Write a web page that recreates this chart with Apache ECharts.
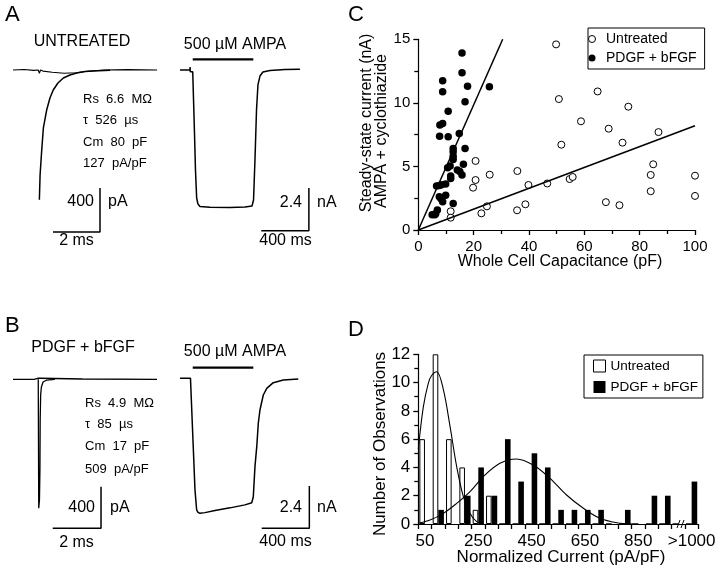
<!DOCTYPE html>
<html><head><meta charset="utf-8">
<script src="https://cdn.jsdelivr.net/npm/echarts@6/dist/echarts.min.js"></script>
<style>html,body{margin:0;padding:0;background:#fff}#c{width:720px;height:572px}</style>
</head><body><div id="c"></div>
<script>
// ---------- DATA ----------
// Panel A/B traces: time (ms), current (nA)
const traceA_base  = [[0.13,0],[0.6,0.005],[1.0,-0.003],[1.2,0],[1.25,-0.03],[1.3,0],[1.4,-0.01],[1.8,-0.02],[2.3,-0.03],[2.8,-0.025],[3.3,-0.012],[4,0],[5,0.003],[6.26,0]];
const traceA_decay = [[1.25,-1.18],[1.28,-0.955],[1.35,-0.727],[1.42,-0.527],[1.56,-0.364],[1.70,-0.255],[1.84,-0.182],[2.04,-0.118],[2.27,-0.073],[2.55,-0.045],[2.84,-0.027],[3.19,-0.014],[3.53,-0.009],[4.26,-0.003]];
const traceA_ampa  = [[42,0],[126,0],[127,0.17],[128,-0.1],[130,0],[149,-0.1],[155,-1.5],[164,-3.6],[172,-5.6],[182,-7.19],[193,-7.53],[210,-7.67],[294,-7.71],[462,-7.72],[588,-7.7],[647,-7.64],[660,-7.3],[672,-5.06],[685,-2.25],[697,-0.84],[714,-0.34],[739,-0.11],[798,-0.03],[924,0.03],[1050,0.04]];
const traceB_base  = [[0.124,0],[1.0,0],[1.15,0.01],[1.21,0.025],[1.25,0.01],[1.3,0],[3,0.003],[6.09,0]];
const traceB_trans = [[1.17,0],[1.19,-1.24],[1.22,-1.16],[1.24,-0.87],[1.25,-0.39],[1.27,-0.15],[1.30,-0.074],[1.37,-0.026],[1.52,-0.007],[1.86,0]];
const traceB_ampa  = [[42,0],[130,0],[132,-0.05],[151,-3.5],[168,-6.34],[182,-7.47],[193,-7.6],[210,-7.66],[252,-7.62],[336,-7.5],[462,-7.35],[588,-7.18],[645,-7.06],[658,-6.72],[672,-5.01],[687,-3.88],[700,-2.55],[714,-1.8],[742,-0.95],[771,-0.57],[826,-0.25],[910,-0.1],[1036,-0.04]];
// AMPA application bar (ms)
const ampaOnOff = [149, 658];
// scale bars: [t0, I0, dt, dI]
const scaleA_fast = [1.83, -1.473, 2, 0.4];
const scaleA_ampa = [725, -9.03, 400, 2.4];
const scaleB_fast = [1.77, -1.433, 2, 0.4];
const scaleB_ampa = [729, -8.51, 400, 2.4];

// Panel C: capacitance (pF), steady-state current (nA)
const cUntreated = [[49.8,14.6],[50.8,10.3],[64.8,10.9],[75.9,9.7],[58.8,8.55],[68.8,7.97],[86.8,7.7],[51.7,6.71],[73.8,6.87],[84.9,5.17],[84,4.33],[100,4.27],[84,3.05],[100,2.68],[67.8,2.19],[72.7,1.95],[54.7,4.01],[55.8,4.17],[46.6,3.66],[39.8,3.54],[35.8,4.64],[20.7,5.43],[20.7,3.93],[19.8,3.33],[25.8,4.35],[35.7,1.55],[38.7,2.02],[24.8,1.86],[22.8,1.31],[11.7,1.47],[11.7,0.97]];
const cPdgf = [[15.8,13.93],[15.8,12.36],[8.8,11.73],[8.8,10.87],[17.8,11.3],[25.7,11.26],[16.9,10.08],[10.8,9.35],[8.8,8.38],[7.8,8.25],[7.7,7.38],[10.8,7.33],[14.8,7.6],[12.6,6.42],[16.9,6.42],[12.6,6.15],[12.6,5.81],[12.6,5.55],[16.3,5.18],[11.5,5.03],[10.6,4.9],[14.1,4.71],[15,4.6],[15.8,4.32],[11.7,4.24],[11.7,4.06],[9.9,3.61],[6.6,3.46],[7.6,3.5],[8.4,3.55],[7.6,2.62],[9.9,2.74],[8.8,2.22],[8.2,2.45],[12.6,2.09],[6.9,1.57],[6.3,1.3],[5.0,1.2],[6.0,1.2]];
const cFitPdgf = [[0,0],[30.5,15]];
const cFitUntreated = [[0,0],[100,8.2]];

// Panel D: histogram of normalized current (pA/pF)
const dCategories = ['50','100','150','200','250','300','350','400','450','500','550','600','650','700','750','800','850','900','950','','>1000'];
const dUntreated = [6,12,6,4,1,2,0,0,0,0,0,0,0,0,0,0,0,0,0,0,0];
const dPdgf      = [0,1,0,2,4,2,6,3,5,4,1,1,1,1,0,1,0,2,2,0,3];
const dFitUntreated = [[25,5.3],[44,8.3],[62.5,9.95],[75,10.5],[94,10.77],[119,9.5],[144,6.9],[169,4.05],[194,1.93],[219,0.75],[244,0.17],[269,0.02]];
const dFitPdgf = [[25,0.05],[69,0.28],[119,0.75],[169,1.46],[219,2.29],[269,3.35],[331,4.29],[394,4.6],[456,4.17],[519,3.23],[581,2.05],[644,1.11],[706,0.4],[769,0.09],[831,0]];

// ---------- CHART ----------
const FF = "'Liberation Sans', Arial, Helvetica, sans-serif";
const chart = echarts.init(document.getElementById('c'), null, {renderer:'canvas'});
const black = '#000';
function trace(name, xi, data, w){ return {name, type:'line', xAxisIndex:xi, yAxisIndex:xi, data, symbol:'none', clip:false, silent:true, lineStyle:{color:black, width:w||1.4}, animation:false}; }
function scaleBar(xi, s){ return trace('sb'+xi, xi, [[s[0],s[1]],[s[0]+s[2],s[1]],[s[0]+s[2],s[1]+s[3]]], 1.5); }
function hidden(gi, min, max){ return {gridIndex:gi, type:'value', min, max, show:false}; }

function axisStyle(extra){
  return Object.assign({
    axisLine:{show:true, onZero:false, lineStyle:{color:black, width:1.2}},
    axisTick:{show:true, inside:false, length:5, lineStyle:{color:black, width:1.3}},
    minorTick:{show:true, splitNumber:2, length:4, lineStyle:{color:black, width:1.3}},
    splitLine:{show:false}, minorSplitLine:{show:false}
  }, extra);
}

function txt(text, x, y, size, align, extra){
  return Object.assign({type:'text', x, y, silent:true, style:{text, fill:black, font: (size||14)+'px '+FF, textAlign:align||'left', align:align||'left', textVerticalAlign:'middle', verticalAlign:'middle'}}, extra||{});
}
const texts = [
  txt('A', 5, 15, 22), txt('B', 5, 326, 22), txt('C', 348, 15, 22), txt('D', 348, 330, 22),
  txt('UNTREATED', 82, 42, 16, 'center'),
  txt('500 \u00b5M AMPA', 235, 45, 16, 'center'),
  txt('Rs  6.6  M\u03a9', 83, 99, 13), txt('\u03c4  526  \u00b5s', 83, 120, 13), txt('Cm  80  pF', 83, 142, 13), txt('127  pA/pF', 83, 163, 13),
  txt('400', 94, 202, 16, 'right'), txt('pA', 108, 202, 16), txt('2 ms', 76.5, 241, 16, 'center'),
  txt('2.4', 302, 203, 16, 'right'), txt('nA', 317, 203, 16), txt('400 ms', 285.5, 241, 16, 'center'),
  txt('PDGF + bFGF', 83, 348, 16, 'center'),
  txt('500 \u00b5M AMPA', 235, 352, 16, 'center'),
  txt('Rs  4.9  M\u03a9', 85, 403, 13), txt('\u03c4  85  \u00b5s', 85, 424, 13), txt('Cm  17  pF', 85, 446, 13), txt('509  pA/pF', 85, 469, 13),
  txt('400', 95, 508, 16, 'right'), txt('pA', 110, 508, 16), txt('2 ms', 76.5, 543, 16, 'center'),
  txt('2.4', 302, 508, 16, 'right'), txt('nA', 317, 508, 16), txt('400 ms', 285.5, 542, 16, 'center'),
  txt('Steady-state current (nA)', 367, 123, 16, 'center', {rotation: Math.PI/2}),
  txt('AMPA + cyclothiazide', 382, 131, 16, 'center', {rotation: Math.PI/2}),
  txt('Whole Cell Capacitance (pF)', 560, 262, 16, 'center'),
  txt('Number of Observations', 380, 444, 17, 'center', {rotation: Math.PI/2}),
  txt('Normalized Current (pA/pF)', 561, 557, 17, 'center')
];

const option = {
  animation:false,
  backgroundColor:'#fff',
  textStyle:{fontFamily:FF, color:black},
  grid:[
    {left:10,  top:59,    width:164.5, height:198},
    {left:175, top:59.32, width:150,   height:197.6},
    {left:10,  top:368.9, width:169,   height:187.2},
    {left:175, top:367.7, width:150,   height:195.7},
    {left:418.3, top:39.3, width:276.7, height:190.7},
    {left:418.3, top:354.3, width:280, height:169.7}
  ],
  xAxis:[
    hidden(0, 0, 7), hidden(1, 0, 1260.5), hidden(2, 0, 7), hidden(3, 0, 1260.5),
    axisStyle({gridIndex:4, type:'value', min:0, max:100, interval:20,
      axisLabel:{color:black, fontSize:15, fontFamily:FF, margin:9}}),
    axisStyle({gridIndex:5, type:'category', data:dCategories, boundaryGap:true,
      axisTick:{show:true, interval:0, alignWithLabel:false, length:5, lineStyle:{color:black, width:1.3}},
      minorTick:{show:false},
      axisLabel:{interval:3, color:black, fontSize:17, fontFamily:FF, margin:9}}),
    {gridIndex:5, type:'value', min:25, max:1075, show:false}
  ],
  yAxis:[
    hidden(0, -1.7, 0.1), hidden(1, -10.5, 0.6), hidden(2, -1.7, 0.1), hidden(3, -10.5, 0.6),
    axisStyle({gridIndex:4, type:'value', min:0, max:15, interval:5,
      axisLabel:{color:black, fontSize:15, fontFamily:FF, margin:8}}),
    axisStyle({gridIndex:5, type:'value', min:0, max:12, interval:2,
      axisLabel:{color:black, fontSize:17, fontFamily:FF, margin:8}})
  ],
  legend:[
    {data:['C|Untreated','C|PDGF + bFGF'], selectedMode:false, orient:'vertical', left:588, top:28,
     itemWidth:18, itemHeight:7, itemGap:5, padding:[4,8,4,0], borderColor:black, borderWidth:1,
     itemStyle:{borderWidth:1},
     formatter:n=>n.split('|')[1], textStyle:{fontSize:14, color:black, fontFamily:FF}},
    {data:['D|Untreated','D|PDGF + bFGF'], selectedMode:false, orient:'vertical', left:584, top:355,
     icon:'rect', itemWidth:12, itemHeight:12, itemGap:7, padding:[4,5,4,9], borderColor:black, borderWidth:1,
     itemStyle:{borderWidth:1},
     formatter:n=>n.split('|')[1], textStyle:{fontSize:13.5, color:black, fontFamily:FF}}
  ],
  series:[
    trace('A_base', 0, traceA_base, 1.1), trace('A_decay', 0, traceA_decay, 1.5), scaleBar(0, scaleA_fast),
    trace('A_ampa', 1, traceA_ampa, 1.5), trace('A_bar', 1, [[ampaOnOff[0],0.6],[ampaOnOff[1],0.6]], 2.2), scaleBar(1, scaleA_ampa),
    trace('B_base', 2, traceB_base, 1.3), trace('B_trans', 2, traceB_trans, 1.3), scaleBar(2, scaleB_fast),
    trace('B_ampa', 3, traceB_ampa, 1.5), trace('B_bar', 3, [[ampaOnOff[0],0.6],[ampaOnOff[1],0.6]], 2.2), scaleBar(3, scaleB_ampa),
    {name:'fitC1', type:'line', xAxisIndex:4, yAxisIndex:4, data:cFitPdgf, symbol:'none', lineStyle:{color:black, width:1.5}, silent:true},
    {name:'fitC2', type:'line', xAxisIndex:4, yAxisIndex:4, data:cFitUntreated, symbol:'none', lineStyle:{color:black, width:1.5}, silent:true},
    {name:'C|Untreated', type:'scatter', xAxisIndex:4, yAxisIndex:4, data:cUntreated, symbol:'circle', symbolSize:7,
     itemStyle:{color:'#fff', borderColor:black, borderWidth:1, opacity:1}},
    {name:'C|PDGF + bFGF', type:'scatter', xAxisIndex:4, yAxisIndex:4, data:cPdgf, symbol:'circle', symbolSize:7.5,
     itemStyle:{color:black, opacity:1}},
    {name:'D|Untreated', type:'bar', xAxisIndex:5, yAxisIndex:5, data:dUntreated, barWidth:5.6, barGap:'0%',
     itemStyle:{color:'#fff', borderColor:black, borderWidth:1}},
    {name:'D|PDGF + bFGF', type:'bar', xAxisIndex:5, yAxisIndex:5, data:dPdgf, barWidth:5.6, barGap:'0%',
     itemStyle:{color:black}},
    {name:'fitD1', type:'line', xAxisIndex:6, yAxisIndex:5, data:dFitUntreated, smooth:0.35, symbol:'none', lineStyle:{color:black, width:1.1}, silent:true},
    {name:'fitD2', type:'line', xAxisIndex:6, yAxisIndex:5, data:dFitPdgf, smooth:0.35, symbol:'none', lineStyle:{color:black, width:1.1}, silent:true}
  ],
  graphic: texts
};
chart.setOption(option);

// axis break marks on panel D x-axis
const bx = chart.convertToPixel({xAxisIndex:6}, 1012);
const by = chart.convertToPixel({yAxisIndex:5}, 0);
const breakEls = [
  {type:'rect', shape:{x:bx-5, y:by-2, width:10, height:4}, style:{fill:'#fff'}, silent:true},
  {type:'line', shape:{x1:bx-4.5, y1:by+4, x2:bx-1.5, y2:by-4}, style:{stroke:black, lineWidth:1}, silent:true},
  {type:'line', shape:{x1:bx-0.5, y1:by+4, x2:bx+2.5, y2:by-4}, style:{stroke:black, lineWidth:1}, silent:true}
];
chart.setOption({graphic: texts.concat(breakEls)});
</script>
</body></html>
